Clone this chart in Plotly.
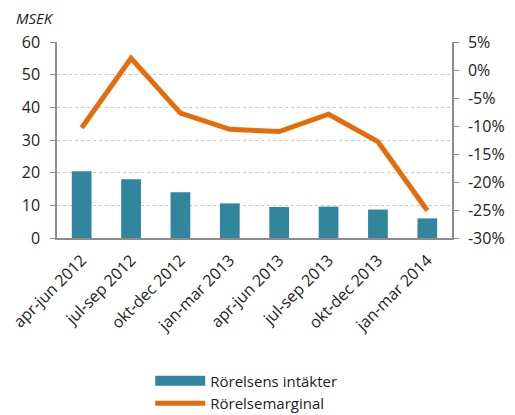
import plotly.graph_objects as go

categories = ["apr-jun 2012", "jul-sep 2012", "okt-dec 2012", "jan-mar 2013",
              "apr-jun 2013", "jul-sep 2013", "okt-dec 2013", "jan-mar 2014"]
intakter = [20.4, 18.0, 14.0, 10.6, 9.5, 9.6, 8.7, 6.0]
marginal = [-10.3, 2.1, -7.7, -10.6, -11.0, -7.9, -12.8, -25.1]

left_ticks = [0, 10, 20, 30, 40, 50, 60]
right_ticks = [5, 0, -5, -10, -15, -20, -25, -30]
right_labels = [f"{v}%" for v in right_ticks]

BAR_COLOR = "#31859C"
LINE_COLOR = "#E46C0A"
font = dict(family="Open Sans, Liberation Sans, sans-serif", size=15, color="#222222")

fig = go.Figure()
fig.add_trace(go.Bar(x=categories, y=intakter, name="Rörelsens intäkter",
                     marker=dict(color=BAR_COLOR), width=0.4, yaxis="y",
                     showlegend=False))
# legend entry drawn as a wide block like the original
fig.add_trace(go.Scatter(x=[None], y=[None], name="Rörelsens intäkter", mode="lines",
                         line=dict(color=BAR_COLOR, width=11), yaxis="y"))
fig.add_trace(go.Scatter(x=categories, y=marginal, name="Rörelsemarginal",
                         mode="lines", line=dict(color=LINE_COLOR, width=5), yaxis="y2"))

fig.update_layout(
    template="none",
    width=507, height=407,
    margin=dict(l=49, r=63, t=34, b=177, autoexpand=False),
    paper_bgcolor="white", plot_bgcolor="white",
    font=font,
    showlegend=True,
    legend=dict(orientation="v", x=0.236, xanchor="left", y=-0.646, yanchor="top",
                font=dict(size=15), itemwidth=50, tracegroupgap=0,
                bgcolor="rgba(0,0,0,0)"),
    xaxis=dict(tickangle=-45, showline=True, linecolor="#8c8c8c", linewidth=1.5,
               ticks="", showgrid=False, tickfont=dict(size=16), ticklabelstandoff=5,
               automargin=False),
    yaxis=dict(range=[0, 60], tickvals=left_ticks, showline=True, linecolor="#8c8c8c",
               linewidth=1.5, ticks="outside", ticklen=5, tickcolor="#8c8c8c",
               ticklabelstandoff=7,
               showgrid=True, gridcolor="#c8c8c8", griddash="dot", gridwidth=1,
               zeroline=False, tickfont=dict(size=16), automargin=False),
    yaxis2=dict(range=[-30, 5], tickvals=right_ticks, ticktext=right_labels,
                overlaying="y", side="right", showline=True, linecolor="#8c8c8c",
                linewidth=1.5, ticks="outside", ticklen=5, tickcolor="#8c8c8c",
                ticklabelstandoff=6,
                showgrid=False, zeroline=False, tickfont=dict(size=16), automargin=False),
    annotations=[dict(text="<i>MSEK</i>", xref="paper", yref="paper", x=-0.11, y=1.06,
                      xanchor="left", yanchor="bottom", showarrow=False,
                      font=dict(size=15))],
)

fig.write_html("out.html")
